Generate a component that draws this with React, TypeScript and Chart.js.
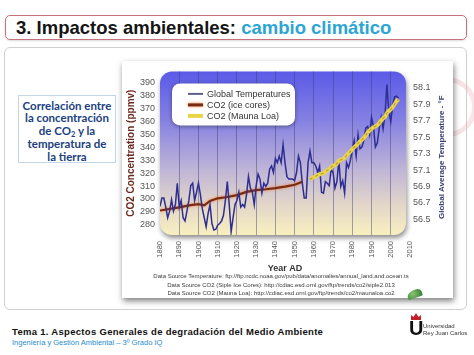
import React, { useEffect, useRef } from 'react';
import { Chart, registerables } from 'chart.js';

Chart.register(...registerables);

// ---------- DATA ----------
const TEMP_START_YEAR = 1880;
// Global average temperature (°F), one value per year from 1880
const TEMPERATURE_F = [
  56.66, 56.76, 56.76, 56.65, 56.52, 56.60, 56.74, 56.60, 56.68, 56.94,
  56.65, 56.73, 56.52, 56.48, 56.60, 56.73, 56.91, 56.94, 56.73, 56.83,
  56.94, 56.80, 56.63, 56.52, 56.41, 56.57, 56.68, 56.45, 56.37, 56.38,
  56.43, 56.45, 56.48, 56.55, 56.73, 56.96, 56.68, 56.35, 56.52, 56.68,
  56.73, 56.83, 56.65, 56.68, 56.65, 56.80, 57.02, 56.88, 56.83, 56.68,
  56.91, 57.05, 56.99, 56.82, 56.94, 56.90, 56.94, 57.11, 57.15, 57.07,
  57.24, 57.19, 57.27, 57.19, 57.41, 57.19, 57.02, 56.99, 56.99, 56.99,
  56.97, 57.07, 57.27, 57.19, 56.94, 56.76, 56.76, 57.19, 57.33, 57.19,
  57.19, 57.15, 57.07, 57.15, 56.83, 56.82, 56.96, 56.94, 56.91, 57.11,
  57.07, 56.88, 56.96, 57.22, 56.90, 56.97, 56.82, 57.19, 57.13, 57.22,
  57.35, 57.46, 57.27, 57.53, 57.36, 57.38, 57.46, 57.61, 57.63, 57.53,
  57.74, 57.63, 57.38, 57.43, 57.61, 57.74, 57.60, 57.77, 58.14, 57.81,
  57.69, 57.89, 57.99, 58.00, 57.97,
];

const ICE_CORE_YEARS = [1880, 1884, 1890, 1895, 1900, 1903, 1906, 1910, 1915, 1920, 1925, 1930, 1935, 1940, 1945, 1950, 1954];
const ICE_CORE_PPMV = [291, 292, 293.5, 295, 296, 295, 298.5, 300.5, 301.5, 303, 305.5, 306.8, 307.5, 308.4, 309.5, 311, 313.4];

const MAUNA_LOA_START_YEAR = 1958;
const MAUNA_LOA_PPMV = [
  315.3, 316.0, 316.9, 317.6, 318.5, 319.0, 319.6, 320.0, 321.4, 322.2,
  323.0, 324.6, 325.7, 326.3, 327.5, 329.7, 330.2, 331.1, 332.1, 333.8,
  335.4, 336.8, 338.7, 340.1, 341.4, 343.0, 344.6, 346.0, 347.4, 349.2,
  351.6, 353.1, 354.4, 355.6, 356.4, 357.1, 358.8, 360.8, 362.6, 363.7,
  366.7, 368.4, 369.6, 371.3, 373.5, 375.8, 377.5,
];

const X_TICKS = [1880, 1890, 1900, 1910, 1920, 1930, 1940, 1950, 1960, 1970, 1980, 1990, 2000, 2010];
const CO2_TICKS = [280, 290, 300, 310, 320, 330, 340, 350, 360, 370, 380, 390];
const TEMP_TICKS = [56.5, 56.7, 56.9, 57.1, 57.3, 57.5, 57.7, 57.9, 58.1];

const SERIES_LABELS = ['Global Temperatures', 'CO2 (ice cores)', 'CO2 (Mauna Loa)'];
const X_TITLE = 'Year AD';
const LEFT_TITLE = 'CO2 Concentration (ppmv)';
const RIGHT_TITLE = 'Global Average Temperature - °F';
const SOURCES = [
  'Data Source Temperature: ftp://ftp.ncdc.noaa.gov/pub/data/anomalies/annual_land.and.ocean.ts',
  'Data Source CO2 (Siple Ice Cores): http://cdiac.esd.ornl.gov/ftp/trends/co2/siple2.013',
  'Data Source CO2 (Mauna Loa): http://cdiac.esd.ornl.gov/ftp/trends/co2/maunaloa.co2',
];

const FONT = '"Liberation Sans", Arial, sans-serif';

function roundRectPath(ctx: CanvasRenderingContext2D, x: number, y: number, w: number, h: number, r: number) {
  ctx.beginPath();
  ctx.moveTo(x + r, y);
  ctx.arcTo(x + w, y, x + w, y + h, r);
  ctx.arcTo(x + w, y + h, x, y + h, r);
  ctx.arcTo(x, y + h, x, y, r);
  ctx.arcTo(x, y, x + w, y, r);
  ctx.closePath();
}

const plotBackground = {
  id: 'plotBackground',
  beforeDraw(chart: any) {
    const { ctx, chartArea: a } = chart;
    const right = a.right - 4;
    ctx.save();
    const g = ctx.createLinearGradient(0, a.top, 0, a.bottom);
    g.addColorStop(0, '#5a5ae8');
    g.addColorStop(0.3, '#8581e2');
    g.addColorStop(0.6, '#bfb5d7');
    g.addColorStop(0.82, '#e3d7c8');
    g.addColorStop(1, '#f8f0c0');
    ctx.shadowColor = 'rgba(0,0,0,0.45)';
    ctx.shadowBlur = 5;
    ctx.shadowOffsetY = 3;
    ctx.shadowOffsetX = 1;
    roundRectPath(ctx, a.left, a.top, right - a.left, a.bottom - a.top, 12);
    ctx.fillStyle = g;
    ctx.fill();
    ctx.restore();
  },
};

const glowPlugin = {
  id: 'glow',
  beforeDatasetDraw(chart: any, args: any) {
    const ds = chart.data.datasets[args.index];
    if (ds.glow) {
      chart.ctx.save();
      chart.ctx.shadowColor = ds.glow;
      chart.ctx.shadowBlur = 3;
    }
  },
  afterDatasetDraw(chart: any, args: any) {
    const ds = chart.data.datasets[args.index];
    if (ds.glow) chart.ctx.restore();
  },
};

const insideLegend = {
  id: 'insideLegend',
  afterDatasetsDraw(chart: any) {
    const { ctx, chartArea: a } = chart;
    const x = a.left + 12;
    const y = a.top + 12;
    const w = 123;
    const h = 42;
    ctx.save();
    ctx.shadowColor = 'rgba(0,0,0,0.4)';
    ctx.shadowBlur = 4;
    ctx.shadowOffsetY = 1;
    roundRectPath(ctx, x, y, w, h, 8);
    ctx.fillStyle = '#ffffff';
    ctx.fill();
    ctx.restore();
    const items = chart.data.datasets.filter((d: any) => !d.hideInLegend);
    items.forEach((ds: any, i: number) => {
      const ly = y + 10.5 + i * 11;
      ctx.save();
      if (ds.glow) {
        ctx.shadowColor = ds.glow;
        ctx.shadowBlur = 3;
      }
      ctx.beginPath();
      ctx.moveTo(x + 16, ly);
      ctx.lineTo(x + 31, ly);
      ctx.strokeStyle = ds.legendColor || ds.borderColor;
      ctx.lineWidth = ds.legendWidth || 2;
      ctx.stroke();
      ctx.restore();
      ctx.save();
      ctx.fillStyle = '#333';
      ctx.font = `9px ${FONT}`;
      ctx.textBaseline = 'middle';
      ctx.fillText(ds.label, x + 35, ly + 0.5);
      ctx.restore();
    });
  },
};

const rightTitle = {
  id: 'rightTitle',
  afterDraw(chart: any) {
    const s = chart.scales.yT;
    const { ctx, chartArea: a } = chart;
    ctx.save();
    ctx.translate(s.right - 13.5, (a.top + a.bottom) / 2 + 4);
    ctx.rotate(-Math.PI / 2);
    ctx.font = `bold 8px ${FONT}`;
    ctx.fillStyle = '#3c4078';
    ctx.textAlign = 'center';
    ctx.textBaseline = 'middle';
    ctx.fillText(RIGHT_TITLE, 0, 0);
    ctx.restore();
  },
};

function ClimateChart() {
  const ref = useRef<HTMLCanvasElement | null>(null);
  useEffect(() => {
    if (!ref.current) return;
    const tempPoints = TEMPERATURE_F.map((v, i) => ({ x: TEMP_START_YEAR + i, y: v }));
    const icePoints = ICE_CORE_YEARS.map((yr, i) => ({ x: yr, y: ICE_CORE_PPMV[i] }));
    const mlPoints = MAUNA_LOA_PPMV.map((v, i) => ({ x: MAUNA_LOA_START_YEAR + i, y: v }));
    const chart = new Chart(ref.current, {
      type: 'line',
      data: {
        datasets: [
          {
            label: SERIES_LABELS[0], data: tempPoints, yAxisID: 'yT', borderColor: '#2d2d94', borderWidth: 1.5,
            pointRadius: 0, order: 2, legendColor: '#5d5f8c', legendWidth: 2,
          } as any,
          {
            label: SERIES_LABELS[1], data: icePoints, yAxisID: 'yC', borderColor: '#7a2c10', borderWidth: 2.2,
            pointRadius: 0, order: 3, glow: 'rgba(240,120,50,0.95)', legendWidth: 3,
          } as any,
          {
            label: SERIES_LABELS[2], data: mlPoints, yAxisID: 'yC', borderColor: '#e9d54a', borderWidth: 4,
            pointRadius: 0, order: 1, legendWidth: 4,
          } as any,
          {
            label: SERIES_LABELS[2], data: mlPoints, yAxisID: 'yC', borderColor: 'rgba(160,110,40,0.6)', borderWidth: 1.1,
            borderDash: [3, 3], pointRadius: 0, order: 0, hideInLegend: true,
          } as any,
        ],
      },
      options: {
        animation: false,
        responsive: false,
        maintainAspectRatio: false,
        events: [],
        layout: { padding: { top: 4, left: 0, right: 0, bottom: 25.6 } },
        plugins: { legend: { display: false }, tooltip: { enabled: false } },
        scales: {
          x: {
            type: 'linear',
            min: 1880,
            max: 2010,
            afterBuildTicks: (s: any) => { s.ticks = X_TICKS.map((v) => ({ value: v })); },
            afterFit: (s: any) => { s.height = 39.4; },
            border: { display: false },
            grid: {
              drawTicks: false,
              color: (c: any) => (c.tick && (c.tick.value === 1880 || c.tick.value === 2010) ? 'rgba(0,0,0,0)' : 'rgba(60,60,115,0.45)'),
              lineWidth: 1,
            },
            ticks: {
              minRotation: 90, maxRotation: 90, padding: 6, autoSkip: false,
              color: '#555', font: { size: 7.5, family: FONT },
              callback: (v: any) => String(v),
            },
            title: { display: true, text: X_TITLE, color: '#333', font: { size: 9, weight: 'bold', family: FONT }, padding: { top: 0, bottom: 0 } },
          },
          yC: {
            type: 'linear',
            position: 'left',
            min: 272,
            max: 399,
            afterBuildTicks: (s: any) => { s.ticks = CO2_TICKS.map((v) => ({ value: v })); },
            afterFit: (s: any) => { s.width = 38; },
            border: { display: false },
            grid: { display: false, drawTicks: false },
            ticks: { padding: 5, color: '#555', font: { size: 9, family: FONT }, callback: (v: any) => String(v) },
            title: { display: true, text: LEFT_TITLE, color: '#6b2a1f', font: { size: 10, weight: 'bold', family: FONT }, padding: { top: 3, bottom: 0 } },
          },
          yT: {
            type: 'linear',
            position: 'right',
            min: 56.31,
            max: 58.3,
            afterBuildTicks: (s: any) => { s.ticks = TEMP_TICKS.map((v) => ({ value: v })); },
            afterFit: (s: any) => { s.width = 45; },
            border: { display: false },
            grid: { display: false, drawTicks: false },
            ticks: { padding: 3, color: '#555', font: { size: 9, family: FONT }, callback: (v: any) => Number(v).toFixed(1) },
          },
        },
      } as any,
      plugins: [plotBackground, glowPlugin, insideLegend, rightTitle],
    });
    return () => chart.destroy();
  }, []);
  return (
    <canvas
      ref={ref}
      width={333}
      height={239}
      style={{ position: 'absolute', left: 122, top: 61, width: 333, height: 239 }}
    />
  );
}

export default function App() {
  return (
    <div style={{ position: 'fixed', left: 0, top: 0, width: 474, height: 355, background: '#fff', overflow: 'hidden', fontFamily: FONT }}>
      {/* title bar */}
      <div style={{ position: 'absolute', left: 5, top: 15, width: 460, height: 23, border: '1.5px solid #c8707e', borderRadius: 5, boxShadow: '0 1px 2px rgba(0,0,0,0.15)' }} />
      <div style={{ position: 'absolute', left: 16, top: 17, height: 22, lineHeight: '22px', fontSize: 18.5, fontWeight: 'bold', whiteSpace: 'nowrap', color: '#151515' }}>
        3. Impactos ambientales: <span style={{ color: '#2ba6d3' }}>cambio climático</span>
      </div>
      {/* content box */}
      <div style={{ position: 'absolute', left: 4, top: 47, width: 461, height: 261, border: '1.5px solid #d0d0d0', borderRadius: 6 }} />
      {/* faint watermark */}
      <div style={{ position: 'absolute', left: 417, top: 77, width: 50, height: 50, border: '5px solid rgba(235,170,180,0.3)', borderRadius: '50%' }} />
      {/* left text box */}
      <div style={{ position: 'absolute', left: 18, top: 95, width: 96, height: 66, border: '1px solid #c5d6e6' }} />
      <div style={{ position: 'absolute', left: 18, top: 99.6, width: 98, textAlign: 'center', fontFamily: 'Lato, "Open Sans", sans-serif', fontWeight: 'bold', fontSize: 11.5, lineHeight: '12.8px', color: '#203f80' }}>
        Correlación entre<br />la concentración<br />de CO<sub style={{ fontSize: 7.5, verticalAlign: -2, lineHeight: 0 }}>2</sub> y la<br />temperatura de<br />la tierra
      </div>
      {/* chart card */}
      <div style={{ position: 'absolute', left: 122, top: 61, width: 331, height: 237, background: '#fff', boxShadow: '1px 3px 6px rgba(0,0,0,0.5)' }} />
      <ClimateChart />
      {/* data sources */}
      <div style={{ position: 'absolute', left: 131, top: 272, width: 300, textAlign: 'center', fontSize: 6, lineHeight: '8.5px', color: '#3a3a3a', whiteSpace: 'nowrap' }}>
        {SOURCES.map((s, i) => (<div key={i}>{s}</div>))}
      </div>
      {/* green emblem */}
      <div style={{ position: 'absolute', left: 407, top: 290, width: 15, height: 8, borderRadius: '60% 40% 10% 10%', background: 'radial-gradient(circle at 40% 40%, #8bc470, #2f7a32)', transform: 'rotate(-20deg)' }} />
      {/* footer */}
      <div style={{ position: 'absolute', left: 12, top: 326, fontSize: 9.5, fontWeight: 'bold', color: '#111', whiteSpace: 'nowrap', letterSpacing: 0.3, lineHeight: '12px' }}>
        Tema 1. Aspectos Generales de degradación del Medio Ambiente
      </div>
      <div style={{ position: 'absolute', left: 12, top: 337.5, fontSize: 7.5, color: '#1f8dcf', whiteSpace: 'nowrap', lineHeight: '9px' }}>
        Ingeniería y Gestión Ambiental – 3º Grado IQ
      </div>
      {/* logo */}
      <svg style={{ position: 'absolute', left: 410, top: 312 }} width="12" height="9" viewBox="0 0 12 9">
        <path d="M1 8 L1 3 L3.5 5 L6 1 L8.5 5 L11 3 L11 8 Z" fill="#c4202a" />
      </svg>
      <div style={{ position: 'absolute', left: 409, top: 318, fontSize: 20, fontWeight: 'bold', color: '#111', lineHeight: '20px' }}>U</div>
      <div style={{ position: 'absolute', left: 423, top: 323, fontSize: 6, color: '#333', lineHeight: '7px', whiteSpace: 'nowrap' }}>
        Universidad<br />Rey Juan Carlos
      </div>
    </div>
  );
}
